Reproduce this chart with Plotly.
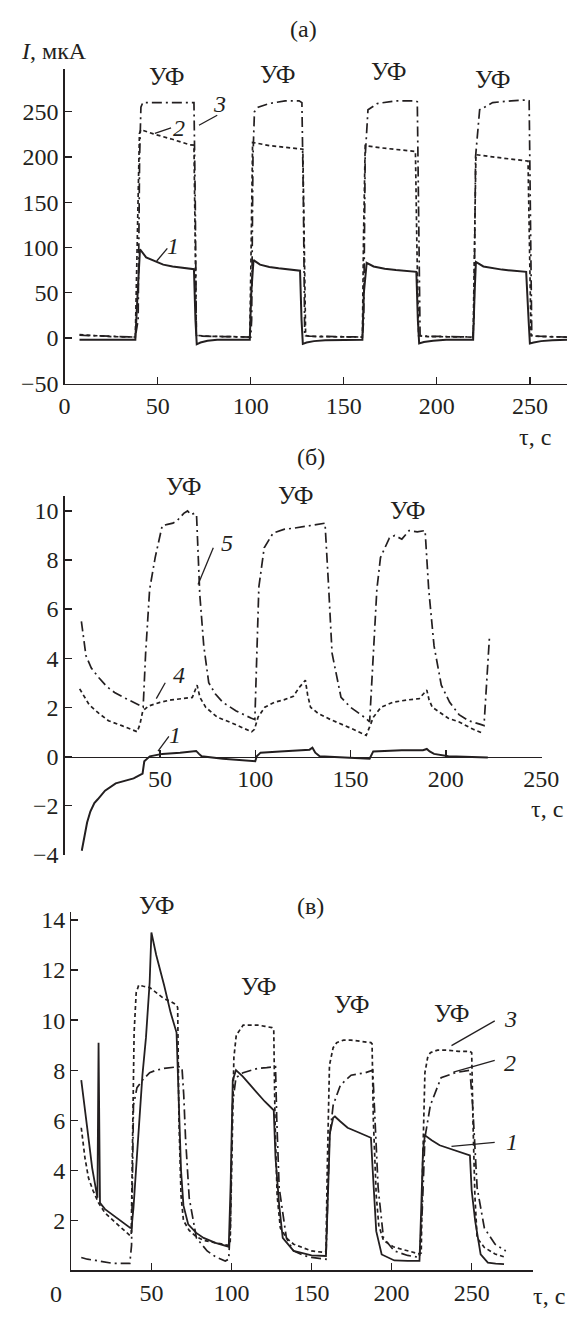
import plotly.graph_objects as go

W, H = 587, 1318

# ---------------- data: panel (а)  (t, I in мкА) ----------------
a_curve1 = [(8, -2), (20, -2), (38, -2), (39, 40), (40, 90), (40.5, 98), (43.8, 89), (48, 85), (53, 81),
            (58, 79), (62.5, 78), (66, 77), (69.5, 76), (70.3, 20), (71, -7), (73, -5), (76.8, -3), (82, -2),
            (90, -2), (99.5, -2), (100.3, 50), (101.5, 86), (105, 81), (110, 78.5), (115, 77), (120, 75.5),
            (126.5, 74.3), (127.3, 20), (128, -6.5), (130, -5), (134, -3.5), (140, -2.5), (150, -2), (160, -2),
            (160.8, 50), (162.3, 83), (166, 79), (172, 76.5), (178, 75), (184, 74), (189, 73), (189.8, 20),
            (190.5, -6), (193, -4.5), (198, -3), (205, -2), (212, -2), (219.5, -2), (220.3, 50), (221, 84),
            (225, 79), (230, 77), (235, 75.5), (240, 74.5), (248, 73), (249.3, 20), (250, -6), (252, -5),
            (256, -3.5), (262, -2.5), (270, -2)]
a_curve2 = [(8, 3.6), (15, 2.5), (25, 1.5), (38, 1), (39.2, 120), (40.2, 226), (41, 230), (47.7, 225.4),
            (57, 220), (63, 216), (67.3, 213.4), (69.5, 213), (70, 110), (70.8, 3), (75, 2), (85, 1.5),
            (99.5, 1), (100.3, 110), (101, 216), (110, 212.5), (120, 210), (128, 208.5), (128.8, 100),
            (129.5, 2.5), (135, 1.5), (150, 1), (160, 1), (160.6, 110), (161.5, 212.5), (170, 210), (180, 208),
            (188.5, 206), (189.3, 100), (190.2, 2.5), (195, 1.5), (210, 1), (219.5, 1), (220.3, 110),
            (221, 202.5), (230, 200), (240, 197.5), (249, 195.4), (249.8, 100), (250.6, 2.5), (256, 1.5),
            (270, 1)]
a_curve3 = [(8, 3), (20, 2), (38, 1), (39.5, 20), (40.3, 200), (41, 255), (42, 260), (55, 260), (69.5, 260),
            (70.2, 150), (70.8, 3), (72, 2), (85, 1.5), (100, 1), (100.5, 20), (101.2, 200), (102, 250),
            (104, 255), (110, 259), (118.5, 262), (126, 262), (127.5, 260), (128.3, 150), (129, 3), (131, 2),
            (145, 1.5), (160, 1), (160.7, 20), (161.5, 200), (163, 252), (168, 259), (178, 262), (188.5, 262),
            (189.5, 261), (190.2, 150), (191, 3), (193, 2), (205, 1.5), (219.3, 1), (220, 20), (220.8, 200),
            (223, 252), (230, 260), (240, 262), (248.5, 263), (249.6, 262), (250.3, 150), (251, 3), (254, 2),
            (270, 1)]

# ---------------- data: panel (б) ----------------
b_curve5 = [(8.8, 5.5), (11.2, 4.1), (14, 3.6), (18, 3.2), (22, 2.85), (26.2, 2.6), (31, 2.4), (36.3, 2.2),
            (39.7, 2.09), (41.2, 2.0), (42.5, 4.2), (44.6, 6.8), (47.5, 8.1), (51.2, 9.4), (54, 9.45),
            (56.8, 9.5), (59, 9.6), (62.5, 9.9), (64.5, 10.0), (66.2, 9.85), (68, 9.9), (69.2, 9.85),
            (70.9, 6.6), (73, 4.5), (75.6, 3.0), (79, 2.55), (83, 2.2), (90, 1.85), (98, 1.55), (99.8, 1.5),
            (101.9, 6.9), (104.7, 8.5), (109.4, 9.1), (115, 9.25), (120.6, 9.3), (125, 9.35), (130, 9.4),
            (134, 9.45), (136.6, 9.5), (138.5, 6.9), (140.3, 4.2), (145, 2.4), (150, 2.0), (158, 1.55),
            (160, 1.4), (163.8, 6.8), (165.7, 8.1), (170.4, 8.9), (173.2, 9.0), (176.9, 8.85), (180.7, 9.2),
            (185, 9.15), (189.1, 9.2), (191, 6.8), (193.8, 4.5), (197.6, 2.9), (202, 2.2), (206.9, 1.7),
            (212, 1.45), (218.2, 1.3), (220, 1.25), (222.9, 4.9)]
b_curve4 = [(7.9, 2.75), (12.9, 2.1), (18, 1.75), (23, 1.45), (30, 1.25), (38.1, 1.0), (39.5, 1.3),
            (41, 1.85), (44, 2.05), (50, 2.2), (56, 2.3), (62, 2.35), (67, 2.4), (69.5, 2.9), (71, 2.4),
            (74, 2.0), (80, 1.6), (88, 1.35), (98.1, 1.0), (99.6, 1.1), (101.5, 1.6), (105, 2.0), (110, 2.2),
            (115, 2.3), (120, 2.45), (123, 2.8), (126.3, 3.1), (127.5, 2.5), (129, 2.0), (133, 1.75),
            (139.4, 1.5), (150, 1.15), (158.2, 0.85), (160, 1.2), (162, 1.6), (166, 2.0), (172, 2.2),
            (180, 2.3), (186, 2.35), (190, 2.7), (191.2, 2.3), (192.9, 2.0), (201.3, 1.55), (207, 1.4),
            (214.4, 1.1), (219, 0.95)]
b_curve1 = [(9, -3.85), (10.5, -3.2), (11.8, -2.7), (13.5, -2.25), (15.6, -1.9), (17.4, -1.75),
            (21.2, -1.4), (26.8, -1.1), (31, -1.0), (36.2, -0.9), (40.9, -0.7), (41.8, -0.2), (44.7, 0.0),
            (51.2, 0.1), (60.6, 0.15), (69, 0.22), (70.5, 0.1), (71.9, 0.0), (83, -0.1), (92.5, -0.15),
            (100, -0.2), (100.8, 0.0), (102.8, 0.15), (113, 0.2), (126.3, 0.25), (128.5, 0.27), (130, 0.35),
            (131.5, 0.15), (133.8, 0.0), (148.8, -0.05), (160, -0.1), (161.9, 0.2), (176.9, 0.25), (188, 0.25),
            (190, 0.3), (191.5, 0.2), (193.8, 0.1), (201.3, 0.0), (222, -0.05)]

# ---------------- data: panel (в) ----------------
c_curve1 = [(6.2, 7.6), (8.5, 6.3), (10.7, 5.3), (13, 4.1), (15.2, 3.3), (16.3, 2.9), (17.0, 9.1),
            (17.9, 2.7), (21, 2.45), (26.4, 2.2), (31, 2.0), (35.4, 1.8), (36.8, 1.7), (37.6, 1.7),
            (38.8, 2.5), (41, 4.6), (44.4, 7.8), (46.6, 9.3), (48.9, 11.5), (50, 13.5), (53, 12.6),
            (57.9, 11.4), (62, 10.3), (65.7, 9.5), (67, 7.0), (68.5, 4.0), (70, 2.6), (73, 1.84), (78, 1.5),
            (82.6, 1.3), (90, 1.1), (98.3, 0.95), (99.5, 3.5), (100.8, 7.6), (102.8, 8.0), (107, 7.75),
            (111.8, 7.4), (116, 7.1), (120.8, 6.75), (126.4, 6.4), (127.5, 4.5), (129.8, 2.6), (132, 1.3),
            (138.8, 0.78), (150, 0.6), (159, 0.58), (160.1, 2.5), (161.5, 5.5), (163.5, 6.1), (164.6, 6.15),
            (168, 5.95), (172.5, 5.7), (178, 5.55), (183.7, 5.4), (187.1, 5.3), (188.2, 4.0), (190.4, 1.57),
            (193.8, 0.64), (201.7, 0.4), (210, 0.38), (217.4, 0.38), (218.5, 2.5), (219.6, 4.8), (220.8, 5.4),
            (225, 5.2), (230, 5.0), (235, 4.9), (240, 4.8), (244, 4.7), (248.9, 4.6), (250, 3.2), (252.2, 1.97),
            (255.6, 0.64), (260.1, 0.31), (265, 0.27), (270.2, 0.25)]
c_curve3 = [(6.2, 5.7), (8.5, 4.5), (10.7, 3.7), (13.5, 3.2), (17, 2.7), (21, 2.3), (26.4, 1.98), (31, 1.7),
            (36.5, 1.4), (37.4, 1.4), (38.2, 5.0), (39.2, 9.5), (40.5, 11.1), (42.1, 11.4), (45, 11.35),
            (48.9, 11.3), (53, 11.1), (57.9, 10.85), (62, 10.75), (65.7, 10.6), (66.4, 10.5), (67.2, 6.0),
            (68.5, 3.0), (70, 2.0), (73.6, 1.6), (78, 1.35), (82.6, 1.2), (90, 1.1), (98.3, 1.0), (99.2, 1.1),
            (100, 4.0), (101.5, 8.5), (103, 9.4), (107.3, 9.8), (112, 9.8), (116.3, 9.8), (121, 9.75),
            (125.3, 9.7), (126.4, 9.65), (127.2, 6.0), (128.5, 3.0), (130.5, 1.7), (134.3, 1.3), (138.8, 1.05),
            (145, 0.9), (150, 0.78), (157.9, 0.72), (159, 0.75), (159.8, 4.0), (161.2, 8.2), (163.5, 8.9),
            (165.7, 9.1), (170, 9.2), (174.7, 9.2), (181, 9.15), (187.1, 9.1), (187.8, 9.05), (188.6, 6.0),
            (190.4, 3.0), (192, 1.8), (194.9, 1.2), (201, 0.95), (206.2, 0.85), (217.4, 0.66), (218.5, 0.7),
            (219.3, 4.0), (220.8, 7.9), (222.5, 8.5), (224.2, 8.7), (228.7, 8.8), (235, 8.8), (242, 8.75),
            (248.9, 8.75), (250, 8.7), (250.8, 6.0), (252, 3.0), (253.4, 1.3), (257.9, 0.92), (264.6, 0.66),
            (271.3, 0.52)]
c_curve2 = [(6.2, 0.52), (10, 0.45), (15.2, 0.4), (21, 0.33), (26.4, 0.28), (31, 0.28), (36.5, 0.28),
            (37.6, 1.0), (38.8, 6.6), (41, 7.3), (44.4, 7.6), (48.9, 7.9), (53, 8.0), (57.9, 8.07), (62, 8.1),
            (66.9, 8.14), (69.1, 8.1), (70.2, 7.0), (71.3, 5.3), (73.6, 2.9), (78.1, 1.3), (84.8, 0.78),
            (90, 0.55), (96.1, 0.38), (98.3, 0.45), (99.4, 2.0), (100.6, 6.6), (102.8, 7.7), (107.3, 7.9),
            (112, 8.0), (116.3, 8.07), (122, 8.1), (127.5, 8.14), (128.3, 6.0), (129.8, 3.3), (134.3, 1.3),
            (138.8, 0.78), (145, 0.6), (150, 0.52), (159, 0.45), (160.1, 2.5), (161.2, 5.3), (163.5, 6.6),
            (168, 7.4), (174.7, 7.8), (183.7, 7.9), (188.2, 8.0), (189.3, 6.5), (191.6, 3.3), (194.9, 1.3),
            (201.7, 0.78), (210, 0.6), (217.4, 0.52), (219.2, 2.5), (220.8, 5.3), (224.2, 6.6), (230.9, 7.7),
            (239.9, 7.9), (248.9, 8.0), (250.7, 6.5), (253.4, 3.3), (257.9, 1.7), (264.6, 1.05), (271.3, 0.78)]

a_xticks = [0, 50, 100, 150, 200, 250]
a_yticks = [-50, 0, 50, 100, 150, 200, 250]
b_xticks = [50, 100, 150, 200, 250]
b_yticks = [-4, -2, 0, 2, 4, 6, 8, 10]
c_xticks = [50, 100, 150, 200, 250]
c_yticks = [2, 4, 6, 8, 10, 12, 14]

INK = "#231f20"
FONT = "Liberation Serif, Times New Roman, serif"
SOLID = "solid"
DASH = "4px,3px"
DASHDOT = "10px,4px,2px,4px"
TICK_SIZE = 24


def split(pairs):
    return [p[0] for p in pairs], [p[1] for p in pairs]


fig = go.Figure()


def add(pairs, xa, ya, dash, width):
    t, v = split(pairs)
    fig.add_trace(go.Scatter(x=t, y=v, mode="lines", xaxis=xa, yaxis=ya,
                             line=dict(color=INK, width=width, dash=dash), showlegend=False,
                             hoverinfo="skip"))


add(a_curve3, "x", "y", DASHDOT, 1.7)
add(a_curve2, "x", "y", DASH, 1.7)
add(a_curve1, "x", "y", SOLID, 2.0)
add(b_curve5, "x2", "y2", DASHDOT, 1.7)
add(b_curve4, "x2", "y2", DASH, 1.7)
add(b_curve1, "x2", "y2", SOLID, 2.0)
add(c_curve2, "x3", "y3", DASHDOT, 1.7)
add(c_curve3, "x3", "y3", DASH, 1.7)
add(c_curve1, "x3", "y3", SOLID, 1.8)


def px(x, y):
    return x / W, 1 - y / H


def axis_common(**kw):
    d = dict(showline=True, linecolor=INK, linewidth=1.3, ticks="inside", ticklen=7,
             tickcolor=INK, tickwidth=1.3, showgrid=False, zeroline=False,
             tickfont=dict(family=FONT, size=TICK_SIZE, color=INK), fixedrange=True)
    d.update(kw)
    return d


fig.update_layout(
    width=W, height=H, autosize=False,
    margin=dict(l=0, r=0, t=0, b=0),
    paper_bgcolor="white", plot_bgcolor="rgba(0,0,0,0)",
    showlegend=False,
    font=dict(family=FONT, color=INK),
    xaxis=axis_common(domain=[61 / W, 584 / W], range=[0, 270], anchor="y",
                      tickmode="array", tickvals=a_xticks),
    yaxis=axis_common(domain=[1 - 384 / H, 1 - 65 / H], range=[-50.6, 297], anchor="x",
                      tickmode="array", tickvals=a_yticks),
    xaxis2=axis_common(domain=[61 / W, 558 / W], range=[0, 250.5], anchor="free",
                       position=1 - 762 / H, tickmode="array", tickvals=b_xticks),
    yaxis2=axis_common(domain=[1 - 862 / H, 1 - 498 / H], range=[-4.03, 10.6], anchor="x2",
                       tickmode="array", tickvals=b_yticks),
    xaxis3=axis_common(domain=[68 / W, 548 / W], range=[0, 288], anchor="y3",
                       tickmode="array", tickvals=c_xticks),
    yaxis3=axis_common(domain=[1 - 1283 / H, 1 - 920 / H], range=[0, 14.3], anchor="x3",
                       tickmode="array", tickvals=c_yticks),
)

ann = []


def text_px(s, x, y, size=24, italic=False):
    xp, yp = px(x, y)
    ann.append(dict(text=(f"<i>{s}</i>" if italic else s), x=xp, y=yp, xref="paper", yref="paper",
                    showarrow=False, xanchor="center", yanchor="middle",
                    font=dict(family=FONT, size=size, color=INK)))


def text_data(s, x, y, xa, ya, size=24):
    ann.append(dict(text=f"<i>{s}</i>", x=x, y=y, xref=xa, yref=ya, showarrow=False,
                    xanchor="center", yanchor="middle", font=dict(family=FONT, size=size, color=INK)))


# panel titles and axis labels
text_px("(а)", 310, 24)
text_px("(б)", 317, 458)
text_px("(в)", 317, 913)
text_px("<i>I</i>, мкА", 50, 47)
text_px("τ, с", 551, 438)
text_px("τ, с", 563, 815)
text_px("τ, с", 565, 1309)
text_px("0", 52, 1307, size=TICK_SIZE)

# УФ labels
for (x, y) in [(168, 72), (283, 70), (399, 67), (507, 76)]:
    text_px("УФ", x, y, size=25)
for (x, y) in [(185, 488), (302, 497), (418, 512)]:
    text_px("УФ", x, y, size=25)
for (x, y) in [(157, 913), (263, 995), (360, 1013), (464, 1022)]:
    text_px("УФ", x, y, size=25)

# curve labels with leader lines (data coordinates)
labels = [
    ("3", 83, 259, "x", "y", (72.2, 235), (82, 246)),
    ("2", 61.5, 232, "x", "y", (48.5, 226), (57.2, 232)),
    ("1", 58, 102, "x", "y", (49.5, 85), (55.2, 99)),
    ("5", 85, 8.7, "x2", "y2", (70, 7.0), (78, 8.5)),
    ("4", 60, 3.3, "x2", "y2", (48.1, 2.35), (52.8, 3.0)),
    ("1", 58, 0.85, "x2", "y2", (49, 0.21), (54.7, 0.81)),
    ("3", 274, 10.05, "x3", "y3", (237.4, 8.98), (264.4, 9.97)),
    ("2", 274, 8.27, "x3", "y3", (238.6, 7.92), (264.4, 8.39)),
    ("1", 275, 5.12, "x3", "y3", (237.4, 4.96), (264.4, 5.12)),
]
shapes = []
for s, lx, ly, xa, ya, p0, p1 in labels:
    text_data(s, lx, ly, xa, ya)
    shapes.append(dict(type="line", xref=xa, yref=ya, x0=p0[0], y0=p0[1], x1=p1[0], y1=p1[1],
                       line=dict(color=INK, width=1.3)))

fig.update_layout(annotations=ann, shapes=shapes)

fig.write_html("out.html", config={"displayModeBar": False, "staticPlot": True},
               post_script="document.body.style.margin='0';document.body.style.overflow='hidden';")
